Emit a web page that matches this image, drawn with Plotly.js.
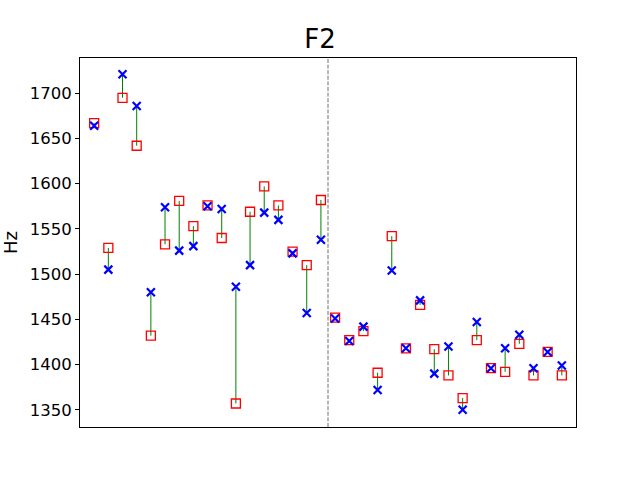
<!DOCTYPE html>
<html>
<head>
<meta charset="utf-8">
<script src="https://cdn.plot.ly/plotly-3.0.1.min.js"></script>
<style>html,body{margin:0;padding:0;background:#fff;}#chart{width:640px;height:480px;}</style>
</head>
<body>
<div id="chart"></div>
<script>
// Red squares (first measurement) and blue crosses (second measurement), F2 in Hz
const squareVals = [1667, 1529, 1695, 1642, 1432, 1533, 1581, 1553, 1576, 1540, 1357, 1569, 1597, 1576, 1525, 1510, 1582,
                    1452, 1427, 1437, 1391, 1542, 1418, 1466, 1417, 1388, 1363, 1427, 1396, 1392, 1423, 1388, 1414, 1388];
const crossVals  = [1664, 1505, 1721, 1686, 1480, 1574, 1526, 1531, 1575, 1572, 1486, 1510, 1568, 1560, 1523, 1457, 1538,
                    1451, 1426, 1442, 1372, 1504, 1418, 1471, 1390, 1420, 1350, 1447, 1396, 1418, 1433, 1396, 1414, 1399];
const splitAt = 16.5;
const yTicks = [1350, 1400, 1450, 1500, 1550, 1600, 1650, 1700];

const idx = squareVals.map((_, i) => i);
const segX = [], segY = [];
idx.forEach(i => { segX.push(i, i, null); segY.push(squareVals[i], crossVals[i], null); });

const traces = [
  {x: segX, y: segY, mode: 'lines', line: {color: '#008000', width: 1}, hoverinfo: 'skip', showlegend: false},
  {x: idx, y: squareVals, mode: 'markers', showlegend: false,
   marker: {symbol: 'square-open', size: 9, color: '#ff0000', line: {width: 1.3, color: '#ff0000'}}},
  {x: idx, y: crossVals, mode: 'markers', showlegend: false,
   marker: {symbol: 'x-thin-open', size: 8, color: '#0000ff', line: {width: 2.2, color: '#0000ff'}}}
];

const layout = {
  width: 640, height: 480,
  margin: {l: 80, r: 64, t: 58, b: 53},
  paper_bgcolor: '#fff', plot_bgcolor: '#fff',
  font: {family: 'DejaVu Sans', color: '#000'},
  title: {text: 'F2', font: {size: 26, family: 'DejaVu Sans', color: '#000'}, x: 0.5, xanchor: 'center', y: 0.918, yanchor: 'middle'},
  xaxis: {range: [-1, 34], showticklabels: false, ticks: '', showgrid: false, zeroline: false,
          showline: true, linecolor: '#000', linewidth: 1, mirror: true},
  yaxis: {range: [1331, 1739], tickvals: yTicks, ticktext: yTicks.map(String), ticks: 'outside', ticklen: 4,
          tickcolor: '#000', tickwidth: 1, tickfont: {size: 16.5, family: 'DejaVu Sans'},
          showgrid: false, zeroline: false, showline: true, linecolor: '#000', linewidth: 1, mirror: true,
          title: {text: 'Hz', font: {size: 18, family: 'DejaVu Sans'}, standoff: 10}},
  shapes: [{type: 'line', xref: 'x', yref: 'paper', x0: splitAt, x1: splitAt, y0: 0, y1: 1,
            line: {color: '#6e6e6e', width: 1, dash: '4px,1.6px'}}]
};

Plotly.newPlot('chart', traces, layout, {staticPlot: true, displayModeBar: false});
</script>
</body>
</html>
